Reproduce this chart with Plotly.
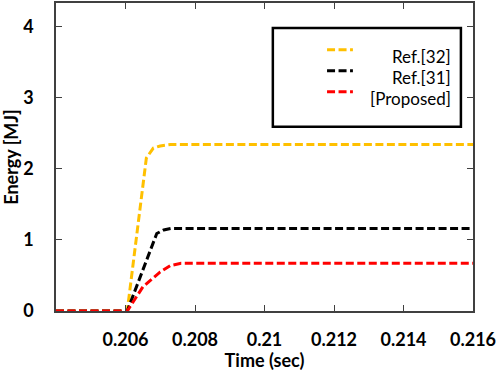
import plotly.graph_objects as go

# Data
t_ref32 = [0.2040, 0.20605, 0.20660, 0.20680, 0.20700, 0.20730, 0.2160]
e_ref32 = [0.0, 0.0, 2.15, 2.29, 2.32, 2.34, 2.34]

t_ref31 = [0.2040, 0.20605, 0.20690, 0.20710, 0.20730, 0.2160]
e_ref31 = [0.0, 0.0, 1.09, 1.14, 1.16, 1.16]

t_prop = [0.2040, 0.20605, 0.20650, 0.20700, 0.20730, 0.20760, 0.2160]
e_prop = [0.0, 0.0, 0.34, 0.55, 0.64, 0.67, 0.67]

x_ticks = [0.206, 0.208, 0.210, 0.212, 0.214, 0.216]
x_tick_labels = ["0.206", "0.208", "0.21", "0.212", "0.214", "0.216"]
y_ticks = [0, 1, 2, 3, 4]

series_names = ["Ref.[32]", "Ref.[31]", "[Proposed]"]
series_colors = ["#FFC000", "#000000", "#FF0000"]

DASH = "8px,3.5px"
FONT = "Lato"

fig = go.Figure()
for t, e, name, col in zip([t_ref32, t_ref31, t_prop], [e_ref32, e_ref31, e_prop],
                           series_names, series_colors):
    fig.add_trace(go.Scatter(x=t, y=e, mode="lines", name=name,
                             line=dict(color=col, width=3, dash=DASH),
                             showlegend=False, cliponaxis=False))

axis_common = dict(showline=True, mirror="ticks", linecolor="#404040", linewidth=1.5,
                   ticks="inside", ticklen=6, tickwidth=1.2, tickcolor="#404040",
                   showgrid=False, zeroline=False, automargin=False,
                   tickfont=dict(family=FONT, size=18, color="#000000", weight="bold"))

fig.update_xaxes(range=[0.204, 0.216], tickvals=x_ticks, ticktext=x_tick_labels,
                 ticklabelstandoff=12,
                 title=dict(text="<b>Time (sec)</b>", font=dict(family=FONT, size=18, color="#000"),
                            standoff=5),
                 **axis_common)
fig.update_yaxes(range=[0, 4.33], tickvals=y_ticks,
                 ticklabelstandoff=17,
                 title=dict(text="<b>Energy [MJ]</b>", font=dict(family=FONT, size=18, color="#000"),
                            standoff=12),
                 **axis_common)

# Manual legend (box, samples, right-aligned labels)
fig.add_shape(type="rect", xref="paper", yref="paper", x0=0.520, x1=0.971, y0=0.598, y1=0.919,
              line=dict(color="#000000", width=2.5), fillcolor="white", layer="above")
sample_y = [0.848, 0.780, 0.712]
text_y = [0.825, 0.757, 0.689]
for name, col, sy, ty in zip(series_names, series_colors, sample_y, text_y):
    fig.add_shape(type="line", xref="paper", yref="paper", x0=0.650, x1=0.712, y0=sy, y1=sy,
                  line=dict(color=col, width=3, dash=DASH), layer="above")
    fig.add_annotation(xref="paper", yref="paper", x=0.952, y=ty, text=name, showarrow=False,
                       xanchor="right", yanchor="middle",
                       font=dict(family=FONT, size=17, color="#000000"))

fig.update_layout(width=498, height=371, margin=dict(l=56, r=25, t=3, b=59.5),
                  plot_bgcolor="white", paper_bgcolor="white",
                  font=dict(family=FONT))

fig.write_html("out.html", config={"displayModeBar": False},
               post_script="document.body.style.margin='0';")
